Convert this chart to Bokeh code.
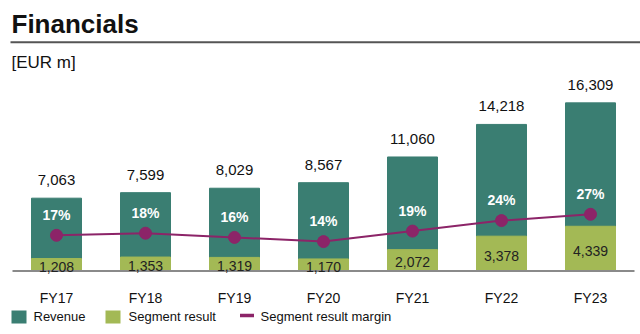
from bokeh.plotting import figure
from bokeh.models import Range1d, ColumnDataSource
from bokeh.core.properties import value
from bokeh.embed import file_html
from bokeh.resources import INLINE

# ---- data ----
years = ["FY17", "FY18", "FY19", "FY20", "FY21", "FY22", "FY23"]
revenue = [7063, 7599, 8029, 8567, 11060, 14218, 16309]
segment_result = [1208, 1353, 1319, 1170, 2072, 3378, 4339]
margin_pct = [17, 18, 16, 14, 19, 24, 27]

TEAL = "#3A7E72"
GREEN = "#A3B955"
PURPLE = "#8C2468"
FONT = value("Liberation Sans")

W, H = 640, 334
# layout: pixel geometry of the canvas
X0_PX, DX_PX = 56, 89          # centre of first category, category spacing
BASE_PX = 270.5                # baseline (distance from top)
REV_PER_PX = 97.0
PCT_PX = 2.1

x_start = -X0_PX / DX_PX
x_end = (W - X0_PX) / DX_PX
y_start = -(H - BASE_PX) * REV_PER_PX
y_end = BASE_PX * REV_PER_PX


def px_x(px):
    return x_start + px / DX_PX


def px_y(py):
    return y_end - py * REV_PER_PX


p = figure(width=W, height=H, output_backend="svg", toolbar_location=None,
           x_range=Range1d(x_start, x_end), y_range=Range1d(y_start, y_end),
           x_axis_location=None, y_axis_location=None,
           min_border=0, min_border_left=0, min_border_right=0,
           min_border_top=0, min_border_bottom=0)
p.extra_y_ranges = {"margin": Range1d(-(H - BASE_PX) / PCT_PX, BASE_PX / PCT_PX)}
p.grid.visible = False
p.outline_line_color = None
p.background_fill_color = "white"
p.border_fill_color = "white"

idx = list(range(len(years)))
src = ColumnDataSource(dict(
    x=idx, year=years, rev=revenue, seg=segment_result,
    seg_mid=[s / 2 for s in segment_result], margin=margin_pct,
    rev_lbl=[f"{v:,}" for v in revenue],
    seg_lbl=[f"{v:,}" for v in segment_result],
    pct_lbl=[f"{v}%" for v in margin_pct],
))

bar_w = 50 / DX_PX
p.vbar(x="x", top="rev", bottom=0, width=bar_w, color=TEAL, source=src)
p.vbar(x="x", top="seg", bottom=0, width=bar_w, color=GREEN, source=src)

# baseline
p.segment(x0=[px_x(12)], x1=[px_x(634)], y0=[0], y1=[0], line_color="#8A8A8A", line_width=2)

# margin line
p.line(x="x", y="margin", source=src, y_range_name="margin", line_color=PURPLE, line_width=2)
p.scatter(x="x", y="margin", source=src, y_range_name="margin", size=12,
          fill_color=PURPLE, line_color=PURPLE)

# labels
MID = "middle"
p.text(x="x", y="rev", text="rev_lbl", source=src, y_offset=-18, text_align="center",
       text_baseline=MID, text_font=FONT, text_font_size="15px", text_color="#111111")
p.text(x="x", y="seg_mid", text="seg_lbl", source=src, y_offset=2, text_align="center",
       text_baseline=MID, text_font=FONT, text_font_size="14px", text_color="#222222")
p.text(x="x", y="margin", text="pct_lbl", source=src, y_range_name="margin", y_offset=-20.5,
       text_align="center", text_baseline=MID, text_font=FONT, text_font_size="14px",
       text_font_style="bold", text_color="white")
# category labels
p.text(x="x", y=px_y(297.7), text="year", source=src, text_align="center",
       text_baseline=MID, text_font=FONT, text_font_size="14px", text_color="#111111")

# title, rule and unit
p.text(x=[px_x(11)], y=[px_y(23.3)], text=["Financials"], text_align="left",
       text_baseline=MID, text_font=FONT, text_font_size="26px",
       text_font_style="bold", text_color="#111111")
p.segment(x0=[px_x(10)], x1=[px_x(640)], y0=[px_y(41.7)], y1=[px_y(41.7)],
          line_color="#555555", line_width=2)
p.text(x=[px_x(11)], y=[px_y(61.7)], text=["[EUR m]"], text_align="left",
       text_baseline=MID, text_font=FONT, text_font_size="17px", text_color="#111111")

# legend (manual)
p.rect(x=[px_x(18.5)], y=[px_y(316.5)], width=15, height=13, width_units="screen",
       height_units="screen", fill_color=TEAL, line_color=None)
p.rect(x=[px_x(112.5)], y=[px_y(316.5)], width=15, height=13, width_units="screen",
       height_units="screen", fill_color=GREEN, line_color=None)
p.rect(x=[px_x(246.5)], y=[px_y(315)], width=14, height=3.5, width_units="screen",
       height_units="screen", fill_color=PURPLE, line_color=None)
p.text(x=[px_x(33), px_x(128), px_x(260)], y=[px_y(316)] * 3,
       text=["Revenue", "Segment result", "Segment result margin"], text_align="left",
       text_baseline=MID, text_font=FONT, text_font_size="13px", text_color="#111111")

open("out.html", "w").write(file_html(p, INLINE))
